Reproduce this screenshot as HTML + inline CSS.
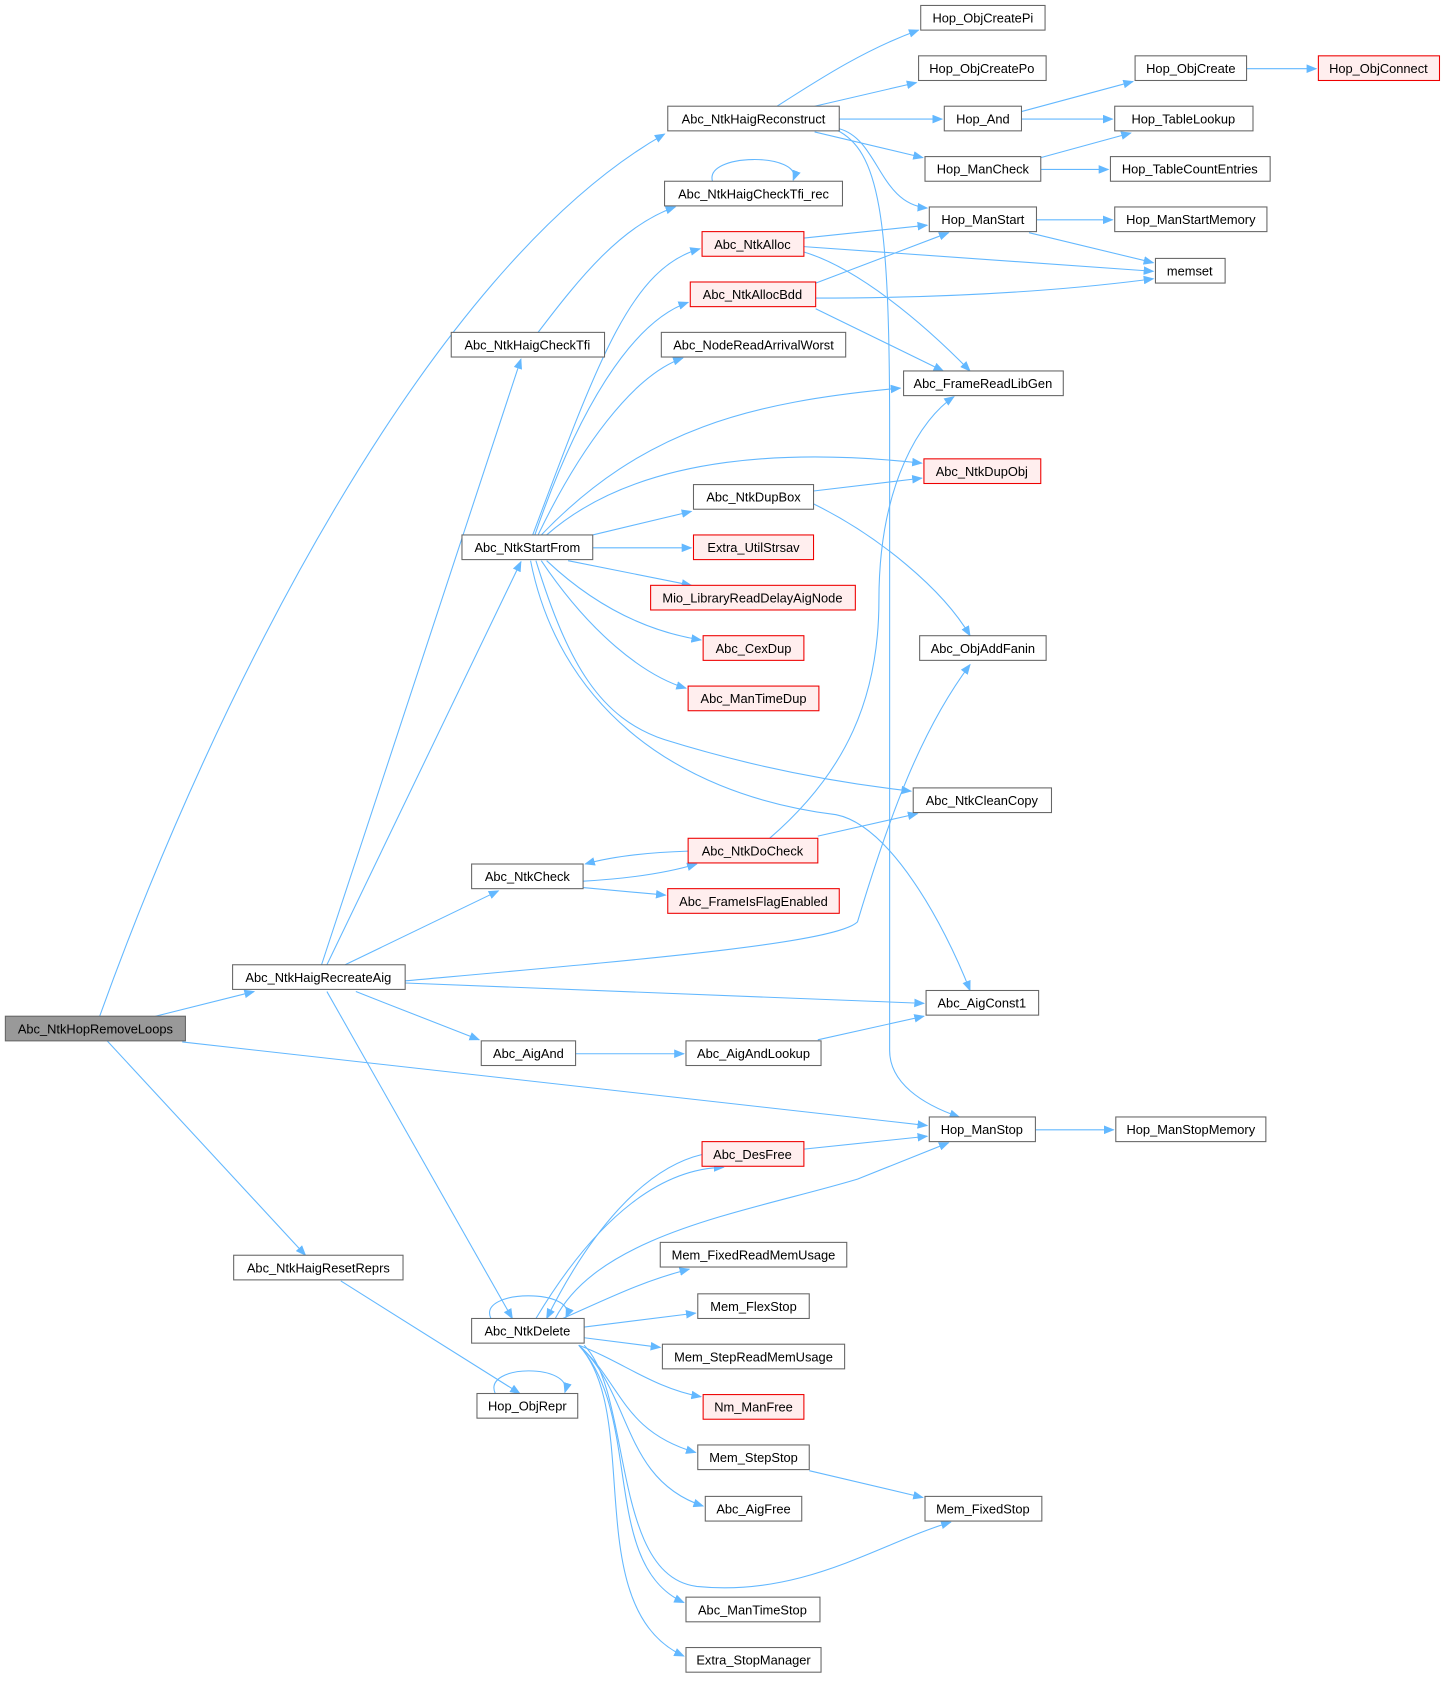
<!DOCTYPE html>
<html><head><meta charset="utf-8"><style>
html,body{margin:0;padding:0;background:#fff;}
svg{display:block;}
text{font-family:"Liberation Sans",Arial,sans-serif;font-size:12px;fill:#000;text-anchor:middle;}
.n{fill:#fff;stroke:#666;stroke-width:1;}
.r{fill:#fee;stroke:#e00;stroke-width:1;}
.g{fill:#999;stroke:#666;stroke-width:1;}
.e{fill:none;stroke:#63b8ff;stroke-width:1;marker-end:url(#a);}
</style></head><body>
<svg width="1447" height="1683" viewBox="0 0 1350 1570" xmlns="http://www.w3.org/2000/svg">
<defs><marker id="a" markerWidth="10" markerHeight="8" refX="9" refY="4" orient="auto" markerUnits="userSpaceOnUse"><path d="M0,0 L10,4 L0,8 z" fill="#63b8ff"/></marker></defs>
<g>
<path class="e" d="M93,948 C200,650 400,250 620,125"/>
<path class="e" d="M145,948 L237,925"/>
<path class="e" d="M170,972 L865,1050"/>
<path class="e" d="M100,971 L285,1171"/>
<path class="e" d="M300,900 L486,335"/>
<path class="e" d="M305,900 L486,524"/>
<path class="e" d="M322,900 L465,831"/>
<path class="e" d="M378,915 C600,895 780,880 800,860 C830,760 860,680 905,620"/>
<path class="e" d="M378,917 L862,936"/>
<path class="e" d="M332,925 L447,970"/>
<path class="e" d="M305,925 L478,1230"/>
<path class="e" d="M318,1195 L485,1300"/>
<path class="e" d="M462,1300 C450,1272 535,1272 527,1299"/>
<path class="e" d="M458,1230 C445,1202 540,1202 528,1229"/>
<path class="e" d="M502,310 C540,260 580,210 630,193"/>
<path class="e" d="M665,170 C655,142 750,142 740,168"/>
<path class="e" d="M497,499 C560,330 590,250 653,232"/>
<path class="e" d="M499,499 C540,380 590,300 642,282"/>
<path class="e" d="M502,499 C540,420 590,350 637,334"/>
<path class="e" d="M505,499 C600,400 700,375 840,362"/>
<path class="e" d="M510,499 C600,420 750,420 860,432"/>
<path class="e" d="M553,499 L645,477"/>
<path class="e" d="M553,511 L645,511"/>
<path class="e" d="M530,523 L645,546"/>
<path class="e" d="M510,523 C560,570 610,590 654,597"/>
<path class="e" d="M505,523 C550,590 600,630 640,642"/>
<path class="e" d="M500,523 C530,620 560,670 620,690 C700,715 780,730 850,738"/>
<path class="e" d="M495,523 C520,650 620,740 780,760 C830,770 880,860 905,924"/>
<path class="e" d="M750,222 L865,210"/>
<path class="e" d="M750,230 L1076,253"/>
<path class="e" d="M750,235 C800,250 860,300 905,346"/>
<path class="e" d="M761,264 L885,217"/>
<path class="e" d="M761,278 C900,278 1000,270 1076,260"/>
<path class="e" d="M761,288 L880,346"/>
<path class="e" d="M759,458 L860,446"/>
<path class="e" d="M759,470 C820,500 880,550 905,593"/>
<path class="e" d="M718,782 C790,720 820,650 820,560 C820,450 860,390 890,370"/>
<path class="e" d="M763,780 L856,759"/>
<path class="e" d="M642,794 C610,795 575,798 546,806"/>
<path class="e" d="M544,822 C580,820 620,815 650,806"/>
<path class="e" d="M544,828 L621,835"/>
<path class="e" d="M537,983 L638,983"/>
<path class="e" d="M763,970 L862,948"/>
<path class="e" d="M725,99 C770,70 810,45 857,28"/>
<path class="e" d="M760,99 L855,77"/>
<path class="e" d="M783,111 L879,111"/>
<path class="e" d="M760,123 L861,147"/>
<path class="e" d="M783,120 C820,130 820,190 865,194"/>
<path class="e" d="M780,121 C820,140 830,200 830,400 L830,980 C830,1010 860,1030 895,1042"/>
<path class="e" d="M953,104 L1057,76"/>
<path class="e" d="M953,111 L1038,111"/>
<path class="e" d="M971,147 L1055,124"/>
<path class="e" d="M971,158 L1034,158"/>
<path class="e" d="M967,205 L1038,205"/>
<path class="e" d="M960,217 L1076,245"/>
<path class="e" d="M1163,64 L1228,64"/>
<path class="e" d="M966,1054 L1039,1054"/>
<path class="e" d="M500,1230 C560,1130 620,1090 675,1089"/>
<path class="e" d="M655,1077 C600,1090 550,1150 510,1230"/>
<path class="e" d="M518,1230 C560,1150 700,1130 800,1100 L885,1066"/>
<path class="e" d="M750,1072 L865,1060"/>
<path class="e" d="M525,1230 C570,1210 600,1195 643,1184"/>
<path class="e" d="M545,1238 L649,1225"/>
<path class="e" d="M545,1248 L616,1257"/>
<path class="e" d="M540,1255 C580,1270 610,1295 654,1303"/>
<path class="e" d="M540,1255 C580,1290 580,1335 649,1355"/>
<path class="e" d="M540,1255 C590,1300 580,1380 656,1405"/>
<path class="e" d="M545,1255 C590,1300 570,1470 650,1480 C750,1490 820,1440 887,1420"/>
<path class="e" d="M540,1255 C600,1320 560,1460 638,1495"/>
<path class="e" d="M540,1255 C600,1320 540,1500 638,1545"/>
<path class="e" d="M755,1372 L861,1397"/>
</g>
<g>
<rect class="g" x="5" y="948" width="168" height="23"/><text x="89" y="964">Abc_NtkHopRemoveLoops</text>
<rect class="n" x="217" y="900" width="161" height="23"/><text x="297" y="916">Abc_NtkHaigRecreateAig</text>
<rect class="n" x="218" y="1171" width="158" height="23"/><text x="297" y="1187">Abc_NtkHaigResetReprs</text>
<rect class="n" x="623" y="99" width="160" height="23"/><text x="703" y="115">Abc_NtkHaigReconstruct</text>
<rect class="n" x="620" y="169" width="166" height="23"/><text x="703" y="185">Abc_NtkHaigCheckTfi_rec</text>
<rect class="n" x="421" y="310" width="143" height="23"/><text x="492" y="326">Abc_NtkHaigCheckTfi</text>
<rect class="n" x="431" y="499" width="122" height="23"/><text x="492" y="515">Abc_NtkStartFrom</text>
<rect class="n" x="440" y="806" width="104" height="23"/><text x="492" y="822">Abc_NtkCheck</text>
<rect class="n" x="449" y="971" width="88" height="23"/><text x="493" y="987">Abc_AigAnd</text>
<rect class="n" x="440" y="1230" width="105" height="23"/><text x="492" y="1246">Abc_NtkDelete</text>
<rect class="n" x="445" y="1300" width="94" height="23"/><text x="492" y="1316">Hop_ObjRepr</text>
<rect class="r" x="655" y="216" width="95" height="23"/><text x="702" y="232">Abc_NtkAlloc</text>
<rect class="r" x="644" y="263" width="117" height="23"/><text x="702" y="279">Abc_NtkAllocBdd</text>
<rect class="n" x="617" y="310" width="172" height="23"/><text x="703" y="326">Abc_NodeReadArrivalWorst</text>
<rect class="n" x="647" y="452" width="112" height="23"/><text x="703" y="468">Abc_NtkDupBox</text>
<rect class="r" x="647" y="499" width="112" height="23"/><text x="703" y="515">Extra_UtilStrsav</text>
<rect class="r" x="607" y="546" width="191" height="23"/><text x="702" y="562">Mio_LibraryReadDelayAigNode</text>
<rect class="r" x="656" y="593" width="94" height="23"/><text x="703" y="609">Abc_CexDup</text>
<rect class="r" x="642" y="640" width="122" height="23"/><text x="703" y="656">Abc_ManTimeDup</text>
<rect class="r" x="642" y="782" width="121" height="23"/><text x="702" y="798">Abc_NtkDoCheck</text>
<rect class="r" x="623" y="829" width="160" height="23"/><text x="703" y="845">Abc_FrameIsFlagEnabled</text>
<rect class="n" x="640" y="971" width="126" height="23"/><text x="703" y="987">Abc_AigAndLookup</text>
<rect class="r" x="655" y="1065" width="95" height="23"/><text x="702" y="1081">Abc_DesFree</text>
<rect class="n" x="616" y="1159" width="174" height="23"/><text x="703" y="1175">Mem_FixedReadMemUsage</text>
<rect class="n" x="651" y="1207" width="104" height="23"/><text x="703" y="1223">Mem_FlexStop</text>
<rect class="n" x="618" y="1254" width="170" height="23"/><text x="703" y="1270">Mem_StepReadMemUsage</text>
<rect class="r" x="656" y="1301" width="94" height="23"/><text x="703" y="1317">Nm_ManFree</text>
<rect class="n" x="651" y="1348" width="104" height="23"/><text x="703" y="1364">Mem_StepStop</text>
<rect class="n" x="658" y="1396" width="90" height="23"/><text x="703" y="1412">Abc_AigFree</text>
<rect class="n" x="640" y="1490" width="125" height="23"/><text x="702" y="1506">Abc_ManTimeStop</text>
<rect class="n" x="640" y="1537" width="126" height="23"/><text x="703" y="1553">Extra_StopManager</text>
<rect class="n" x="859" y="5" width="116" height="23"/><text x="917" y="21">Hop_ObjCreatePi</text>
<rect class="n" x="857" y="52" width="119" height="23"/><text x="916" y="68">Hop_ObjCreatePo</text>
<rect class="n" x="881" y="99" width="72" height="23"/><text x="917" y="115">Hop_And</text>
<rect class="n" x="863" y="146" width="108" height="23"/><text x="917" y="162">Hop_ManCheck</text>
<rect class="n" x="867" y="193" width="100" height="23"/><text x="917" y="209">Hop_ManStart</text>
<rect class="n" x="843" y="346" width="149" height="23"/><text x="917" y="362">Abc_FrameReadLibGen</text>
<rect class="r" x="862" y="428" width="109" height="23"/><text x="916" y="444">Abc_NtkDupObj</text>
<rect class="n" x="858" y="593" width="118" height="23"/><text x="917" y="609">Abc_ObjAddFanin</text>
<rect class="n" x="852" y="735" width="129" height="23"/><text x="916" y="751">Abc_NtkCleanCopy</text>
<rect class="n" x="864" y="924" width="105" height="23"/><text x="916" y="940">Abc_AigConst1</text>
<rect class="n" x="867" y="1042" width="99" height="23"/><text x="916" y="1058">Hop_ManStop</text>
<rect class="n" x="863" y="1396" width="109" height="23"/><text x="917" y="1412">Mem_FixedStop</text>
<rect class="n" x="1059" y="52" width="104" height="23"/><text x="1111" y="68">Hop_ObjCreate</text>
<rect class="n" x="1040" y="99" width="129" height="23"/><text x="1104" y="115">Hop_TableLookup</text>
<rect class="n" x="1036" y="146" width="149" height="23"/><text x="1110" y="162">Hop_TableCountEntries</text>
<rect class="n" x="1040" y="193" width="142" height="23"/><text x="1111" y="209">Hop_ManStartMemory</text>
<rect class="n" x="1078" y="241" width="65" height="23"/><text x="1110" y="257">memset</text>
<rect class="r" x="1230" y="52" width="113" height="23"/><text x="1286" y="68">Hop_ObjConnect</text>
<rect class="n" x="1041" y="1042" width="140" height="23"/><text x="1111" y="1058">Hop_ManStopMemory</text>
</g>
</svg>
</body></html>
